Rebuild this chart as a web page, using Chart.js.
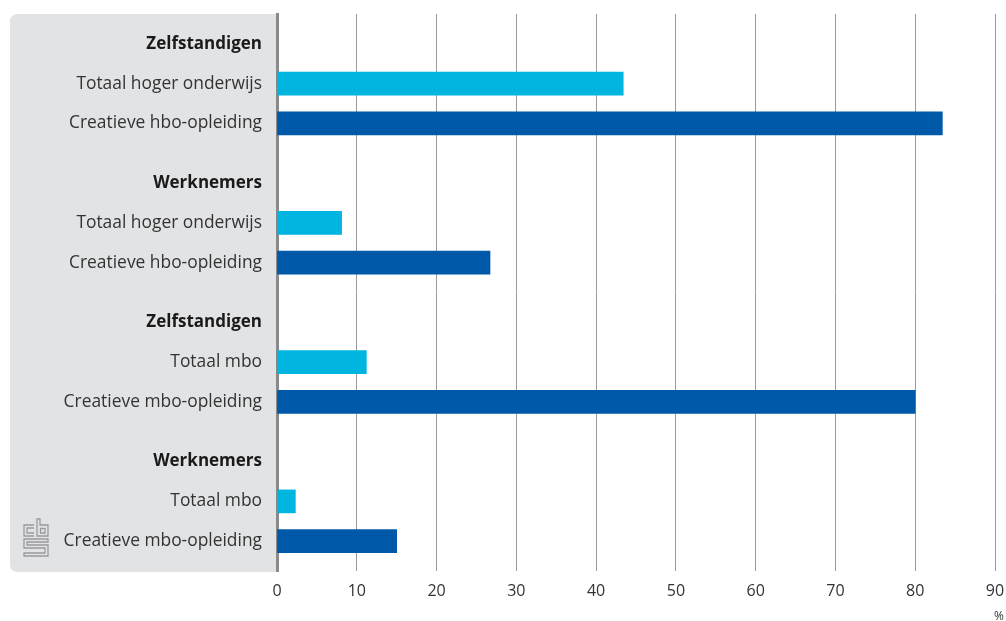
<!DOCTYPE html>
<html>
<head>
<meta charset="utf-8">
<script src="https://cdn.jsdelivr.net/npm/chart.js@4"></script>
<style>
html,body{margin:0;padding:0;background:#fff;}
#wrap{width:1006px;height:621px;position:relative;}
</style>
</head>
<body>
<div id="wrap"><canvas id="c" width="1006" height="621"></canvas></div>
<script>
// ---- data ----
const groupHeaders = ['Zelfstandigen', 'Werknemers', 'Zelfstandigen', 'Werknemers'];
const totaalLabels = ['Totaal hoger onderwijs', 'Totaal hoger onderwijs', 'Totaal mbo', 'Totaal mbo'];
const creatiefLabels = ['Creatieve hbo-opleiding', 'Creatieve hbo-opleiding', 'Creatieve mbo-opleiding', 'Creatieve mbo-opleiding'];
const totaalValues = [43.4, 8.1, 11.2, 2.3];
const creatiefValues = [83.4, 26.7, 80.0, 15.0];
const xTicks = [0, 10, 20, 30, 40, 50, 60, 70, 80, 90];
const unitLabel = '%';

// ---- build rows (with spacer rows) ----
const labels = [''];
const dTot = [null];
const dCre = [null];
const isHeader = [false];
groupHeaders.forEach((h, i) => {
  const rows = [
    [h, null, null, true],
    ['', null, null, false],
    [totaalLabels[i], totaalValues[i], null, false],
    ['', null, null, false],
    [creatiefLabels[i], null, creatiefValues[i], false]
  ];
  if (i < groupHeaders.length - 1) {
    rows.push(['', null, null, false], ['', null, null, false]);
  }
  rows.forEach(r => { labels.push(r[0]); dTot.push(r[1]); dCre.push(r[2]); isHeader.push(r[3]); });
});
labels.push(''); dTot.push(null); dCre.push(null); isHeader.push(false);

const FONT = '"Open Sans", "DejaVu Sans", sans-serif';

const panelPlugin = {
  id: 'panel',
  beforeDraw(chart) {
    const {ctx, chartArea} = chart;
    const x0 = 10, x1 = chartArea.left, y0 = chartArea.top, y1 = chartArea.bottom + 1;
    const r = 8;
    ctx.save();
    ctx.fillStyle = '#e2e3e5';
    ctx.beginPath();
    ctx.moveTo(x1, y0);
    ctx.lineTo(x0 + r, y0);
    ctx.quadraticCurveTo(x0, y0, x0, y0 + r);
    ctx.lineTo(x0, y1 - r);
    ctx.quadraticCurveTo(x0, y1, x0 + r, y1);
    ctx.lineTo(x1, y1);
    ctx.closePath();
    ctx.fill();
    // cbs logo
    ctx.strokeStyle = '#9a9b9d';
    ctx.lineWidth = 1.3;
    const lx = 24, ly = 519;
    ctx.beginPath();
    ctx.moveTo(lx + 10, ly + 6); ctx.lineTo(lx, ly + 6); ctx.lineTo(lx, ly + 17); ctx.lineTo(lx + 10, ly + 17);
    ctx.moveTo(lx + 10, ly + 9); ctx.lineTo(lx + 3, ly + 9); ctx.lineTo(lx + 3, ly + 14); ctx.lineTo(lx + 10, ly + 14);
    ctx.moveTo(lx + 13, ly); ctx.lineTo(lx + 13, ly + 17); ctx.lineTo(lx + 24, ly + 17); ctx.lineTo(lx + 24, ly + 6); ctx.lineTo(lx + 16, ly + 6); ctx.lineTo(lx + 16, ly); ctx.closePath();
    ctx.rect(lx + 16.5, ly + 9.5, 4.5, 4.5);
    ctx.moveTo(lx + 24, ly + 20); ctx.lineTo(lx, ly + 20); ctx.lineTo(lx, ly + 29); ctx.lineTo(lx + 21, ly + 29);
    ctx.lineTo(lx + 21, ly + 34); ctx.lineTo(lx, ly + 34); ctx.lineTo(lx, ly + 37); ctx.lineTo(lx + 24, ly + 37);
    ctx.lineTo(lx + 24, ly + 26); ctx.lineTo(lx + 3, ly + 26); ctx.lineTo(lx + 3, ly + 23); ctx.lineTo(lx + 24, ly + 23); ctx.closePath();
    ctx.stroke();
    ctx.restore();
  },
  afterDraw(chart) {
    const {ctx} = chart;
    ctx.save();
    ctx.fillStyle = '#333';
    ctx.font = '12px ' + FONT;
    ctx.textAlign = 'right';
    ctx.textBaseline = 'middle';
    ctx.fillText(unitLabel, 1004, 617);
    ctx.restore();
  }
};

new Chart(document.getElementById('c'), {
  type: 'bar',
  data: {
    labels: labels,
    datasets: [
      { label: 'Totaal', data: dTot, backgroundColor: '#00b5e0', barThickness: 23, grouped: false },
      { label: 'Creatief', data: dCre, backgroundColor: '#0058a8', barThickness: 23, grouped: false }
    ]
  },
  options: {
    indexAxis: 'y',
    responsive: false,
    animation: false,
    layout: { padding: { top: 14, left: 10, right: 11, bottom: 0 } },
    plugins: { legend: { display: false }, tooltip: { enabled: false } },
    scales: {
      x: {
        min: 0, max: 90,
        afterBuildTicks(scale) { scale.ticks = xTicks.map(v => ({ value: v })); },
        afterFit(scale) { scale.height = 50; scale.paddingLeft = 0; scale.paddingRight = 0; },
        grid: { color: '#9a9a9a', lineWidth: 1, drawTicks: false },
        border: { display: false },
        ticks: { padding: 11, color: '#333', font: { family: FONT, size: 16 } }
      },
      y: {
        afterFit(scale) { scale.width = 267; scale.paddingTop = 0; scale.paddingBottom = 0; },
        grid: { display: false, drawTicks: false },
        border: { display: true, color: '#8a8a8c', width: 3 },
        ticks: {
          autoSkip: false,
          padding: 15,
          color: (c) => isHeader[c.index] ? '#1a1a1a' : '#333',
          font: (c) => ({ family: FONT, size: isHeader[c.index] ? 17 : 17.4, weight: isHeader[c.index] ? 'bold' : 'normal' })
        }
      }
    }
  },
  plugins: [panelPlugin]
});
</script>
</body>
</html>
